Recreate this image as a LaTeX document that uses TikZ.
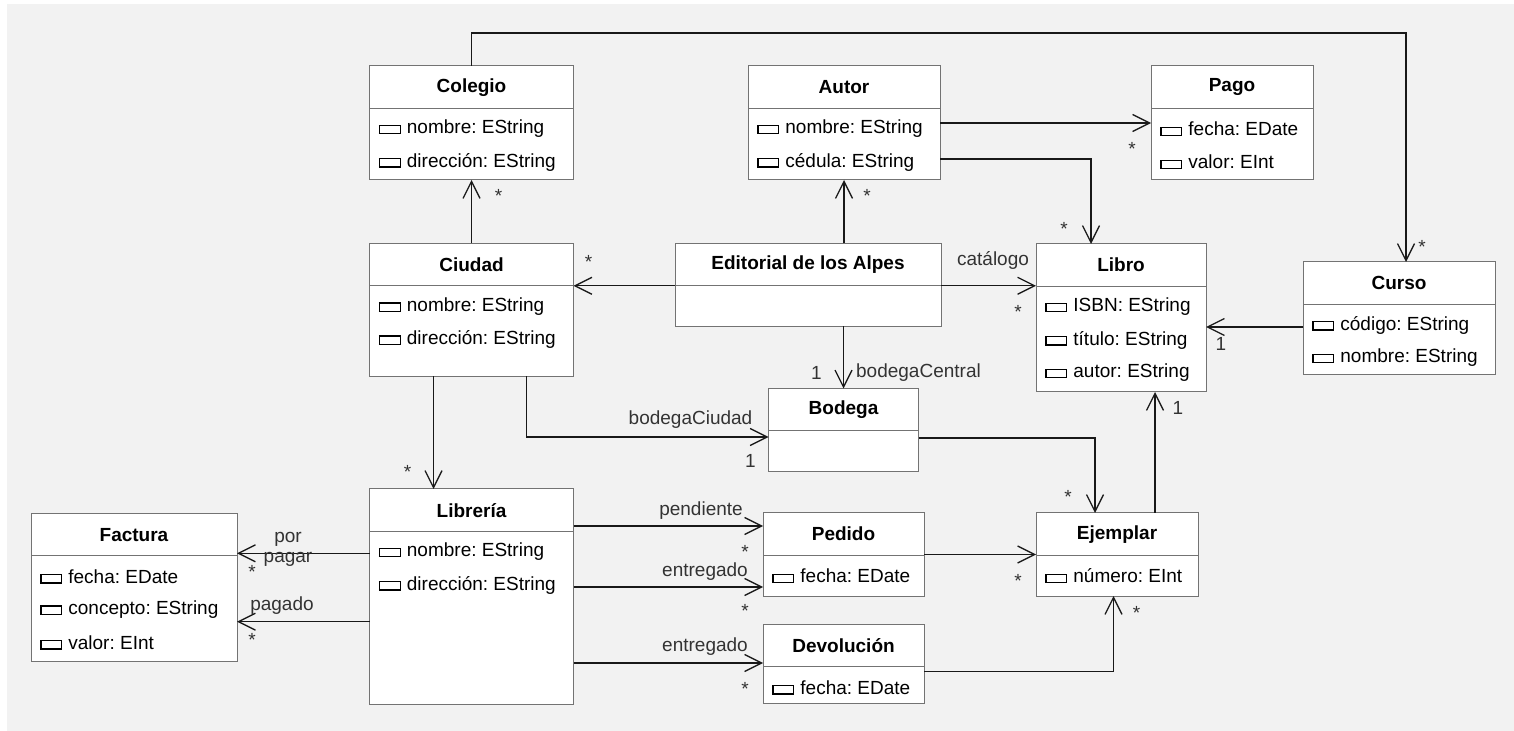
\documentclass[tikz,border=0pt]{standalone}
\usepackage{fontspec}
\setmainfont{Liberation Sans}
\usetikzlibrary{arrows.meta}
\frenchspacing

\newcommand{\fld}{\raisebox{0.4pt}{\fboxsep=0pt\fboxrule=0.65pt\fbox{\rule{0pt}{3.5pt}\hspace{9.7pt}}}\hspace{3pt}}

\begin{document}
\begin{tikzpicture}[x=0.5pt,y=-0.5pt,font=\fontsize{9.5}{10}\selectfont,
  cls/.style={draw=black!55,fill=white,line width=0.5pt,inner sep=0pt,outer sep=0pt},
  hdr/.style={font=\fontsize{9.5}{10}\selectfont\bfseries,inner sep=0pt,minimum height=20.75pt,anchor=north},
  sep/.style={draw=black!55,line width=0.5pt},
  attr/.style={anchor=west,inner sep=0pt,yshift=-1pt},
  assoc/.style={draw=black!90,line width=0.65pt,-{Straight Barb[length=8.5pt,width=8.5pt]}},
  lbl/.style={inner sep=0pt,text=black!80}]
  \useasboundingbox (0,0) rectangle (1514,731);
  \fill[black!5] (7,4) rectangle (1514,731);

  \node[cls,minimum width=102pt,minimum height=57pt] (colegio) at (471.5,123) {};
  \node[hdr] (colegio-h) at (colegio.north) {Colegio};
  \draw[sep] (colegio-h.south -| colegio.west) -- (colegio-h.south -| colegio.east);
  \node[attr] (colegio-1) at (378.5,127) {\fld nombre: EString};
  \node[attr] (colegio-2) at (378.5,160) {\fld dirección: EString};

  \node[cls,minimum width=96pt,minimum height=57pt] (autor) at (844,123) {};
  \node[hdr] (autor-h) at (autor.north) {Autor};
  \draw[sep] (autor-h.south -| autor.west) -- (autor-h.south -| autor.east);
  \node[attr] (autor-1) at (757,127) {\fld nombre: EString};
  \node[attr] (autor-2) at (757,160) {\fld cédula: EString};

  \node[cls,minimum width=81pt,minimum height=57pt] (pago) at (1232,123) {};
  \node[hdr] (pago-h) at (pago.north) {Pago};
  \draw[sep] (pago-h.south -| pago.west) -- (pago-h.south -| pago.east);
  \node[attr] (pago-1) at (1160,127) {\fld fecha: EDate};
  \node[attr] (pago-2) at (1160,160) {\fld valor: EInt};

  \node[cls,minimum width=102pt,minimum height=66.5pt] (ciudad) at (471.5,310) {};
  \node[hdr] (ciudad-h) at (ciudad.north) {Ciudad};
  \draw[sep] (ciudad-h.south -| ciudad.west) -- (ciudad-h.south -| ciudad.east);
  \node[attr] (ciudad-1) at (378.5,304.5) {\fld nombre: EString};
  \node[attr] (ciudad-2) at (378.5,337.5) {\fld dirección: EString};

  \node[cls,minimum width=133pt,minimum height=41.5pt] (editorial) at (808,285) {};
  \node[hdr] (editorial-h) at (editorial.north) {Editorial de los Alpes};
  \draw[sep] (editorial-h.south -| editorial.west) -- (editorial-h.south -| editorial.east);

  \node[cls,minimum width=85pt,minimum height=74pt] (libro) at (1121,318) {};
  \node[hdr] (libro-h) at (libro.north) {Libro};
  \draw[sep] (libro-h.south -| libro.west) -- (libro-h.south -| libro.east);
  \node[attr] (libro-1) at (1045,305) {\fld ISBN: EString};
  \node[attr] (libro-2) at (1045,338) {\fld título: EString};
  \node[attr] (libro-3) at (1045,371) {\fld autor: EString};

  \node[cls,minimum width=96pt,minimum height=56.5pt] (curso) at (1399,318.5) {};
  \node[hdr] (curso-h) at (curso.north) {Curso};
  \draw[sep] (curso-h.south -| curso.west) -- (curso-h.south -| curso.east);
  \node[attr] (curso-1) at (1312,323) {\fld código: EString};
  \node[attr] (curso-2) at (1312,356) {\fld nombre: EString};

  \node[cls,minimum width=75pt,minimum height=41.5pt] (bodega) at (843.5,430) {};
  \node[hdr] (bodega-h) at (bodega.north) {Bodega};
  \draw[sep] (bodega-h.south -| bodega.west) -- (bodega-h.south -| bodega.east);

  \node[cls,minimum width=102pt,minimum height=107.5pt] (libreria) at (471.5,596.5) {};
  \node[hdr] (libreria-h) at (libreria.north) {Librería};
  \draw[sep] (libreria-h.south -| libreria.west) -- (libreria-h.south -| libreria.east);
  \node[attr] (libreria-1) at (378.5,550) {\fld nombre: EString};
  \node[attr] (libreria-2) at (378.5,583) {\fld dirección: EString};

  \node[cls,minimum width=103pt,minimum height=74pt] (factura) at (134,587.5) {};
  \node[hdr] (factura-h) at (factura.north) {Factura};
  \draw[sep] (factura-h.south -| factura.west) -- (factura-h.south -| factura.east);
  \node[attr] (factura-1) at (40,574.5) {\fld fecha: EDate};
  \node[attr] (factura-2) at (40,607.5) {\fld concepto: EString};
  \node[attr] (factura-3) at (40,640.5) {\fld valor: EInt};

  \node[cls,minimum width=80.5pt,minimum height=41.5pt] (pedido) at (843.5,554.5) {};
  \node[hdr] (pedido-h) at (pedido.north) {Pedido};
  \draw[sep] (pedido-h.south -| pedido.west) -- (pedido-h.south -| pedido.east);
  \node[attr] (pedido-1) at (772,574) {\fld fecha: EDate};

  \node[cls,minimum width=81pt,minimum height=41.5pt] (ejemplar) at (1117,554.5) {};
  \node[hdr] (ejemplar-h) at (ejemplar.north) {Ejemplar};
  \draw[sep] (ejemplar-h.south -| ejemplar.west) -- (ejemplar-h.south -| ejemplar.east);
  \node[attr] (ejemplar-1) at (1045,574) {\fld número: EInt};

  \node[cls,minimum width=80.5pt,minimum height=39.5pt] (devolucion) at (843.5,664) {};
  \node[hdr] (devolucion-h) at (devolucion.north) {Devolución};
  \draw[sep] (devolucion-h.south -| devolucion.west) -- (devolucion-h.south -| devolucion.east);
  \node[attr] (devolucion-1) at (772,685.5) {\fld fecha: EDate};

  \draw[assoc] (colegio.north) -- ++(0,-33) -| node[lbl,at end,xshift=8pt,yshift=7.5pt] {*} ([xshift=3.5pt]curso.north);
  \draw[assoc] (ciudad.north) -- node[lbl,at end,xshift=13.5pt,yshift=-8pt] {*} (colegio.south);
  \draw[assoc] (autor.south |- editorial.north) -- node[lbl,at end,xshift=11.5pt,yshift=-8pt] {*} (autor.south);
  \draw[assoc] (autor.east) -- node[lbl,at end,xshift=-9.5pt,yshift=-13pt] {*} (autor.east -| pago.west);
  \draw[assoc] ([yshift=-18pt]autor.east) -| node[lbl,at end,xshift=-13.5pt,yshift=7.5pt] {*} ([xshift=-15pt]libro.north);
  \draw[assoc] (editorial-h.south -| editorial.west) -- node[lbl,at end,xshift=7.5pt,yshift=12pt] {*} (editorial-h.south -| ciudad.east);
  \draw[assoc] (editorial-h.south -| editorial.east) -- node[lbl,at end,xshift=-21.5pt,yshift=12.5pt] {catálogo}
    node[lbl,at end,xshift=-9pt,yshift=-13pt] {*} (editorial-h.south -| libro.west);
  \draw[assoc] (bodega.north |- editorial.south) -- node[lbl,at end,xshift=-13.5pt,yshift=8pt] {1}
    node[lbl,at end,anchor=west,xshift=6pt,yshift=8pt] {bodegaCentral} (bodega.north);
  \draw[assoc] ([xshift=27.5pt]ciudad.south) |- node[lbl,at end,xshift=-39pt,yshift=8.5pt] {bodegaCiudad}
    node[lbl,at end,xshift=-9pt,yshift=-12pt] {1} ([yshift=-3.5pt]bodega.west);
  \draw[assoc] ([xshift=-19pt]ciudad.south) -- node[lbl,at end,xshift=-13pt,yshift=8.5pt] {*} ([xshift=-19pt]libreria.north);
  \draw[assoc] ([yshift=-4pt]bodega.east) -| node[lbl,at end,xshift=-13.5pt,yshift=8pt] {*} ([xshift=-11pt]ejemplar.north);
  \draw[assoc] ([xshift=19pt]ejemplar.north) -- node[lbl,at end,xshift=11.5pt,yshift=-8pt] {1} ([xshift=19pt]ejemplar.north |- libro.south);
  \draw[assoc] ([yshift=-4.25pt]curso.west) -- node[lbl,at end,xshift=7.5pt,yshift=-8.5pt] {1} ([yshift=-4.25pt]curso.west -| libro.east);
  \draw[assoc] ([yshift=35.25pt]libreria.east) -- node[lbl,at end,xshift=-31pt,yshift=7.5pt] {pendiente}
    node[lbl,at end,xshift=-9pt,yshift=-13pt] {*} ([yshift=35.25pt]libreria.east -| pedido.west);
  \draw[assoc] ([yshift=4.75pt]libreria.east) -- node[lbl,at end,xshift=-29pt,yshift=7.5pt] {entregado}
    node[lbl,at end,xshift=-9pt,yshift=-12pt] {*} ([yshift=4.75pt]libreria.east -| pedido.west);
  \draw[assoc] ([yshift=-33.25pt]libreria.east) -- node[lbl,at end,xshift=-29pt,yshift=8pt] {entregado}
    node[lbl,at end,xshift=-9pt,yshift=-13pt] {*} ([yshift=-33.25pt]libreria.east -| devolucion.west);
  \draw[assoc] (pedido.east) -- node[lbl,at end,xshift=-9pt,yshift=-13pt] {*} (pedido.east -| ejemplar.west);
  \draw[assoc] ([yshift=-3.85pt]devolucion.east) -| node[lbl,at end,xshift=11.5pt,yshift=-8.5pt] {*} ([xshift=-1.75pt]ejemplar.south);
  \draw[assoc] ([yshift=21.6pt]libreria.west) -- node[lbl,at end,align=center,xshift=25.5pt,yshift=2pt] {por\\pagar}
    node[lbl,at end,xshift=7.5pt,yshift=-9.5pt] {*} ([yshift=21.6pt]libreria.west -| factura.east);
  \draw[assoc] ([yshift=-12.6pt]libreria.west) -- node[lbl,at end,xshift=22.5pt,yshift=8pt] {pagado}
    node[lbl,at end,xshift=7.5pt,yshift=-9pt] {*} ([yshift=-12.6pt]libreria.west -| factura.east);
\end{tikzpicture}
\end{document}
